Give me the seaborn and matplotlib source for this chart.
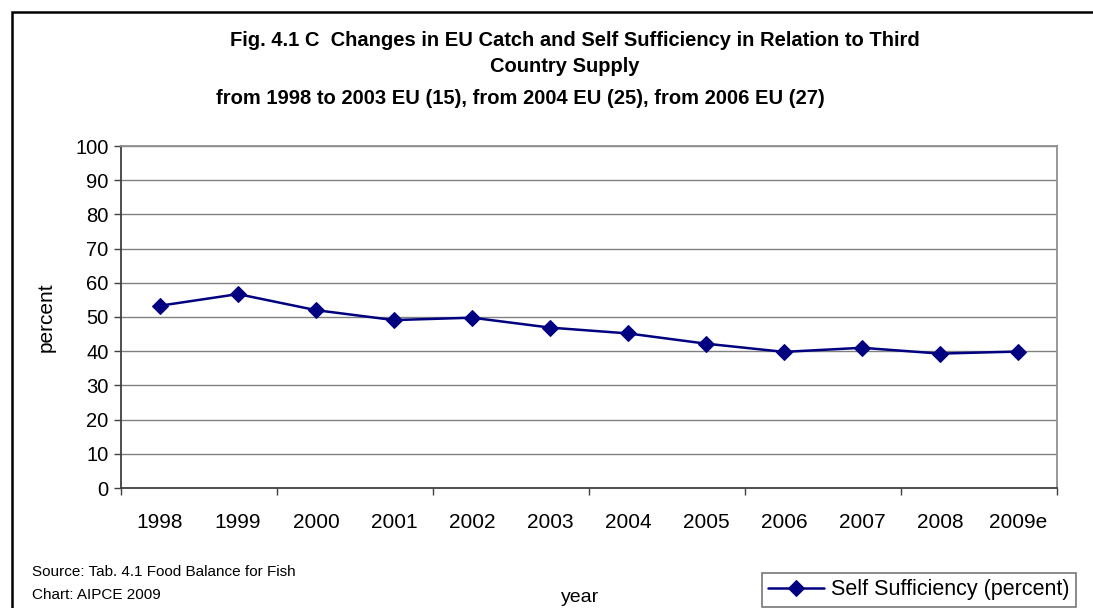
import matplotlib
matplotlib.use("Agg")
import matplotlib.pyplot as plt
import seaborn as sns
import pandas as pd
from matplotlib.patches import Rectangle

years = ["1998", "1999", "2000", "2001", "2002", "2003", "2004", "2005", "2006", "2007", "2008", "2009e"]
self_sufficiency = [53.3, 56.7, 52.0, 49.1, 49.8, 46.9, 45.2, 42.2, 39.8, 41.0, 39.3, 39.9]
y_ticks = [0, 10, 20, 30, 40, 50, 60, 70, 80, 90, 100]

sns.set_theme(style="white")
plt.rcParams['font.family'] = ['Liberation Sans', 'DejaVu Sans']
plt.rcParams['text.color'] = 'black'
plt.rcParams['axes.labelcolor'] = 'black'
plt.rcParams['xtick.color'] = 'black'
plt.rcParams['ytick.color'] = 'black'

df = pd.DataFrame({"year": years, "value": self_sufficiency, "pos": range(len(years))})

fig = plt.figure(figsize=(10.93, 6.08), dpi=100)
W, H = 1093, 608
ax = fig.add_axes([121 / W, 1 - 488 / H, (1057 - 121) / W, (488 - 146) / H])

sns.lineplot(data=df, x="pos", y="value", ax=ax, color="#000080", marker="D",
             markersize=8, markeredgecolor="#000080", linewidth=1.8,
             label="Self Sufficiency (percent)", legend=False)

ax.set_xlim(-0.5, len(years) - 0.5)
ax.set_ylim(0, 100)
ax.set_yticks(y_ticks)
ax.set_yticklabels([str(v) for v in y_ticks], fontsize=14.5)
ax.set_xticks(range(len(years)))
ax.set_xticklabels(years, fontsize=15)
ax.tick_params(axis="x", which="major", length=0, pad=18, labelcolor="black")
ax.set_xticks([i - 0.5 for i in range(0, len(years) + 1, 2)], minor=True)
ax.tick_params(axis="x", which="minor", length=5, color="#404040", width=1, direction="out", bottom=True)
ax.tick_params(axis="y", which="major", length=5, color="#404040", width=1, direction="out", left=True, pad=4,
               labelcolor="black")

ax.grid(axis="y", color="#808080", linewidth=1)
ax.grid(axis="x", visible=False)
for s in ["left", "bottom"]:
    ax.spines[s].set_color("#404040")
    ax.spines[s].set_linewidth(1.3)
for s in ["top", "right"]:
    ax.spines[s].set_color("#909090")
    ax.spines[s].set_linewidth(1.3)

ax.set_xlabel("")
ax.set_ylabel("percent", fontsize=15, labelpad=14, color="black")

title_kw = dict(ha="center", va="center", fontsize=14.5, fontweight="bold", color="black")
fig.text(575 / W, 1 - 40 / H, "Fig. 4.1 C  Changes in EU Catch and Self Sufficiency in Relation to Third", **title_kw)
fig.text(565 / W, 1 - 66 / H, "Country Supply", **title_kw)
fig.text(520 / W, 1 - 99 / H, "from 1998 to 2003 EU (15), from 2004 EU (25), from 2006 EU (27)", **title_kw)

fig.text(580 / W, 1 - 597 / H, "year", ha="center", va="center", fontsize=14, color="black")
fig.text(32 / W, 1 - 572 / H, "Source: Tab. 4.1 Food Balance for Fish", ha="left", va="center", fontsize=11,
         color="black")
fig.text(32 / W, 1 - 595 / H, "Chart: AIPCE 2009", ha="left", va="center", fontsize=11, color="black")

leg = fig.legend(handles=ax.get_lines()[:1], labels=["Self Sufficiency (percent)"],
                 loc="upper left", bbox_to_anchor=(762 / W, 1 - 573 / H), fontsize=15.5,
                 frameon=True, fancybox=False, borderpad=0.3, handlelength=2.6,
                 handletextpad=0.3, borderaxespad=0)
leg.get_frame().set_edgecolor("#555555")
leg.get_frame().set_linewidth(1.2)
for t in leg.get_texts():
    t.set_color("black")

fig.patches.append(Rectangle((12 / W, -0.1), 1.2, 1 - 12 / H + 0.1, transform=fig.transFigure,
                             fill=False, edgecolor="black", linewidth=1.8, figure=fig))

fig.savefig("out.png", dpi=100)
